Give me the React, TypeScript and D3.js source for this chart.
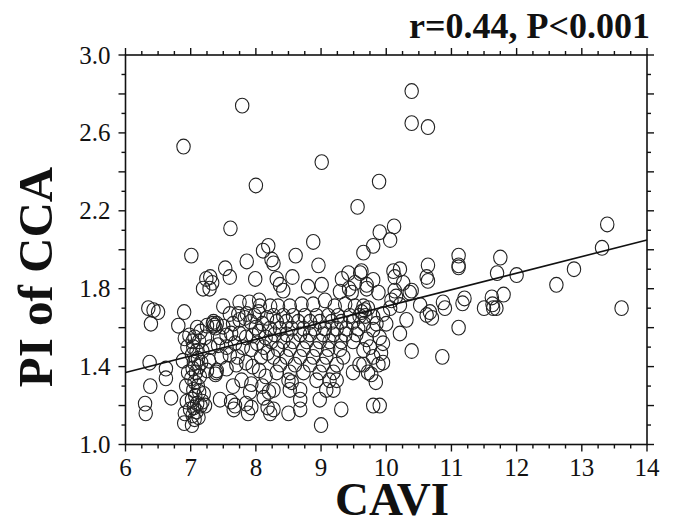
import React from "react";
import * as d3 from "d3";

// ---- data (CAVI, PI of CCA) ----
const groupBelow7: [number, number][] = [
  [6.35, 1.70], [6.43, 1.69], [6.50, 1.68], [6.39, 1.62], [6.37, 1.42], [6.38, 1.30], [6.30, 1.21], [6.31, 1.16],
  [6.62, 1.39], [6.62, 1.34], [6.70, 1.24], [6.81, 1.61], [6.90, 1.68], [6.89, 2.53], [6.90, 1.11], [6.91, 1.545],
  [6.91, 1.16], [6.88, 1.43], [6.93, 1.30], [6.95, 1.50], [6.96, 1.37], [6.94, 1.22],
];

const group7: [number, number][] = [
  [7.01, 1.97], [7.02, 1.10], [6.98, 1.56], [7.03, 1.53], [7.06, 1.55], [7.04, 1.50], [7.09, 1.48], [7.02, 1.46],
  [7.11, 1.44], [7.05, 1.42], [7.12, 1.40], [7.03, 1.39], [7.08, 1.37], [7.14, 1.35], [7.01, 1.34], [7.06, 1.32],
  [7.11, 1.30], [7.04, 1.28], [7.13, 1.27], [7.07, 1.25], [7.02, 1.23], [7.10, 1.21], [7.15, 1.20], [7.05, 1.19],
  [6.99, 1.18], [7.09, 1.17], [7.03, 1.15], [7.12, 1.14], [7.06, 1.13], [7.18, 1.22], [7.22, 1.20], [7.20, 1.26],
  [7.16, 1.42], [7.18, 1.48], [7.15, 1.58], [7.13, 1.53], [7.24, 1.85], [7.30, 1.86], [7.19, 1.80], [7.29, 1.80],
  [7.33, 1.83], [7.25, 1.38], [7.10, 1.60], [7.22, 1.55],
];

const group8: [number, number][] = [
  [7.53, 1.905], [7.61, 2.11], [7.79, 2.74], [7.86, 1.94], [7.60, 1.86], [7.99, 1.85], [7.50, 1.71], [7.60, 1.67],
  [7.73, 1.67], [7.86, 1.67], [7.34, 1.62], [7.36, 1.61], [7.38, 1.60], [7.35, 1.63], [7.40, 1.62], [7.25, 1.61],
  [7.50, 1.605], [7.65, 1.62], [7.75, 1.64], [7.83, 1.65], [7.92, 1.63], [7.45, 1.55], [7.55, 1.56], [7.62, 1.57],
  [7.75, 1.57], [7.85, 1.55], [7.95, 1.56], [7.30, 1.50], [7.42, 1.51], [7.55, 1.50], [7.68, 1.52], [7.80, 1.50],
  [7.93, 1.49], [7.40, 1.38], [7.38, 1.36], [7.39, 1.37], [7.55, 1.39], [7.70, 1.41], [7.85, 1.42], [7.95, 1.40],
  [7.78, 1.33], [7.93, 1.31], [7.91, 1.27], [7.65, 1.30], [7.45, 1.23], [7.62, 1.22], [7.68, 1.20], [7.66, 1.18],
  [7.85, 1.21], [7.93, 1.19], [7.88, 1.16], [7.28, 1.43], [7.47, 1.45], [7.60, 1.46], [7.72, 1.45], [8.00, 2.33],
  [8.06, 1.71], [8.00, 1.60], [8.05, 1.58], [8.10, 1.62], [8.15, 1.55], [8.02, 1.52], [8.12, 1.50], [8.08, 1.45],
  [8.18, 1.47], [8.05, 1.38], [8.15, 1.35], [8.10, 1.30], [8.20, 1.27], [8.12, 1.24], [8.22, 1.16], [8.18, 1.19],
  [7.98, 1.66], [8.04, 1.68], [8.17, 1.65], [7.75, 1.73], [7.90, 1.73], [8.05, 1.74],
];

const group9: [number, number][] = [
  [8.19, 2.02], [8.11, 1.995], [8.61, 1.97], [8.27, 1.93], [8.24, 1.95], [8.56, 1.86], [8.32, 1.85], [8.37, 1.82],
  [8.42, 1.79], [8.80, 1.81], [8.88, 2.04], [8.96, 1.92], [9.01, 2.45], [9.01, 1.82], [9.06, 1.74],
  [8.22, 1.71], [8.34, 1.71], [8.52, 1.71], [8.70, 1.72], [8.88, 1.72], [9.21, 1.71], [9.37, 1.72], [9.52, 1.71],
  [8.27, 1.66], [8.42, 1.66], [8.57, 1.66], [8.75, 1.66], [8.93, 1.66], [9.11, 1.66], [9.26, 1.66], [9.44, 1.66], [9.59, 1.66],
  [8.32, 1.63], [8.47, 1.63], [8.65, 1.63], [8.83, 1.63], [8.98, 1.63], [9.16, 1.63], [9.31, 1.63], [9.49, 1.63],
  [8.215, 1.595], [8.37, 1.595], [8.55, 1.595], [8.73, 1.595], [8.90, 1.595], [9.06, 1.595], [9.24, 1.595], [9.39, 1.595],
  [9.57, 1.595], [8.29, 1.565], [8.47, 1.565], [8.68, 1.565], [8.83, 1.565], [9.03, 1.565], [9.19, 1.565], [9.37, 1.565],
  [9.54, 1.565], [8.24, 1.53], [8.42, 1.53], [8.57, 1.53], [8.78, 1.53], [8.98, 1.53], [9.13, 1.53], [9.31, 1.53],
  [9.49, 1.53], [8.34, 1.49], [8.52, 1.49], [8.73, 1.49], [8.93, 1.49], [9.11, 1.49], [9.29, 1.49],
  [8.27, 1.45], [8.47, 1.45], [8.68, 1.45], [8.88, 1.45], [9.08, 1.45], [9.34, 1.45],
  [8.37, 1.41], [8.60, 1.41], [8.83, 1.41], [9.03, 1.41], [9.24, 1.41], [9.59, 1.41],
  [8.32, 1.37], [8.52, 1.37], [8.73, 1.37], [8.98, 1.37], [9.19, 1.37], [9.49, 1.37],
  [8.50, 1.33], [8.55, 1.32], [8.93, 1.33], [9.13, 1.33], [9.24, 1.33],
  [8.27, 1.28], [8.52, 1.28], [8.68, 1.28], [9.08, 1.28], [9.19, 1.28],
  [8.68, 1.23], [8.98, 1.23], [8.27, 1.18], [8.68, 1.18], [9.31, 1.18], [8.50, 1.16], [9.00, 1.10],
  [9.32, 1.85], [9.42, 1.88], [9.60, 1.88], [9.52, 1.83], [9.47, 1.78], [9.70, 1.82], [9.29, 1.785], [9.56, 2.22],
  [9.65, 1.985], [9.43, 1.80],
];

const group10: [number, number][] = [
  [9.80, 2.02], [9.90, 2.09], [9.89, 2.35], [10.12, 2.12], [10.06, 2.05], [10.39, 2.815], [10.39, 2.65], [10.64, 2.63],
  [10.64, 1.92], [10.62, 1.86], [10.64, 1.84], [10.11, 1.89], [10.21, 1.90], [10.13, 1.86], [9.62, 1.89], [9.80, 1.845],
  [10.26, 1.83], [10.39, 1.79], [10.36, 1.78], [10.13, 1.79], [9.88, 1.78], [9.70, 1.80], [10.87, 1.73], [10.90, 1.70],
  [10.52, 1.716], [10.67, 1.68], [10.70, 1.65], [10.62, 1.665], [10.31, 1.64], [10.21, 1.716], [10.06, 1.70], [9.95, 1.67],
  [9.80, 1.655], [9.67, 1.69], [9.65, 1.71], [10.21, 1.57], [10.39, 1.48], [10.86, 1.45], [9.90, 1.55], [9.80, 1.59],
  [9.70, 1.54], [9.65, 1.485], [9.80, 1.45], [9.88, 1.41], [9.72, 1.37], [9.65, 1.41], [9.77, 1.36], [9.80, 1.20],
  [9.90, 1.20], [10.00, 1.62], [10.08, 1.74], [10.15, 1.76], [9.85, 1.62], [9.75, 1.50], [9.95, 1.52], [9.92, 1.47],
  [9.84, 1.32], [9.95, 1.42], [9.62, 1.68], [9.68, 1.66], [9.72, 1.70], [9.66, 1.62],
];

const group11: [number, number][] = [
  [11.11, 1.97], [11.11, 1.92], [11.11, 1.91], [11.75, 1.96], [11.70, 1.88], [12.00, 1.87], [12.88, 1.90], [12.61, 1.82],
  [13.61, 1.70], [11.80, 1.77], [11.20, 1.75], [11.17, 1.725], [11.62, 1.755], [11.50, 1.70], [11.63, 1.72], [11.64, 1.70],
  [11.69, 1.70], [11.11, 1.60], [13.39, 2.13], [13.31, 2.01],
];

const xTicks = [6, 7, 8, 9, 10, 11, 12, 13, 14];
const yTickLabels = ["1.0", "1.4", "1.8", "2.2", "2.6", "3.0"];
const fitLine: [number, number][] = [[6, 1.37], [14, 2.05]];
const titleText = "r=0.44, P<0.001";
const xLabel = "CAVI";
const yLabel = "PI of CCA";

export default function App() {
  const W = 673, H = 525;
  const L = 125.5, R = 647, T = 55, B = 444.5;
  const x = d3.scaleLinear().domain([6, 14]).range([L, R]);
  const y = d3.scaleLinear().domain([1, 3]).range([B, T]);
  const points = [...groupBelow7, ...group7, ...group8, ...group9, ...group10, ...group11];
  const xMinor = d3.range(6, 14.0001, 0.25);
  const yMinor = d3.range(1, 3.0001, 0.1);
  const isXMajor = (v: number) => Math.abs(v - Math.round(v)) < 1e-6;
  const isYMajor = (v: number) => Math.abs(v * 5 - Math.round(v * 5)) < 1e-6;
  const line = d3.line<[number, number]>().x(d => x(d[0])).y(d => y(d[1]));
  const serif = "'Liberation Serif', 'Times New Roman', serif";
  const stroke = "#111";

  return (
    <svg width={W} height={H} style={{ position: "absolute", left: 0, top: 0, background: "#fff" }}
      fontFamily={serif}>
      <rect x={0} y={0} width={W} height={H} fill="#fff" />
      {points.map((p, i) => (
        <ellipse key={i} cx={x(p[0])} cy={y(p[1])} rx={6.7} ry={7.4} fill="none" stroke="#222" strokeWidth={1.1} />
      ))}
      <path d={line(fitLine) || ""} fill="none" stroke={stroke} strokeWidth={1.6} />
      <rect x={L} y={T} width={R - L} height={B - T} fill="none" stroke={stroke} strokeWidth={1.6} />
      {xMinor.map((v, i) => {
        const len = isXMajor(v) ? 7 : 4;
        return (
          <g key={"xt" + i}>
            <line x1={x(v)} x2={x(v)} y1={B} y2={B + len} stroke={stroke} strokeWidth={1.4} />
            <line x1={x(v)} x2={x(v)} y1={T} y2={T - len} stroke={stroke} strokeWidth={1.4} />
          </g>
        );
      })}
      {yMinor.map((v, i) => {
        const len = isYMajor(v) ? 7 : 4;
        return (
          <g key={"yt" + i}>
            <line x1={L} x2={L - len} y1={y(v)} y2={y(v)} stroke={stroke} strokeWidth={1.4} />
            <line x1={R} x2={R + len} y1={y(v)} y2={y(v)} stroke={stroke} strokeWidth={1.4} />
          </g>
        );
      })}
      {xTicks.map(v => (
        <text key={"xl" + v} x={x(v)} y={B + 31} textAnchor="middle" fontSize={25} fill="#111">{v}</text>
      ))}
      {yTickLabels.map(s => (
        <text key={"yl" + s} x={L - 15} y={y(+s) + 8.5} textAnchor="end" fontSize={25} fill="#111">{s}</text>
      ))}
      <text x={650} y={38} textAnchor="end" fontSize={36} fontWeight="bold" fill="#111">{titleText}</text>
      <text x={392} y={515} textAnchor="middle" fontSize={47} fontWeight="bold" fill="#111">{xLabel}</text>
      <text transform={`translate(52, 277) rotate(-90)`} textAnchor="middle" fontSize={49} fontWeight="bold" fill="#111">{yLabel}</text>
    </svg>
  );
}
